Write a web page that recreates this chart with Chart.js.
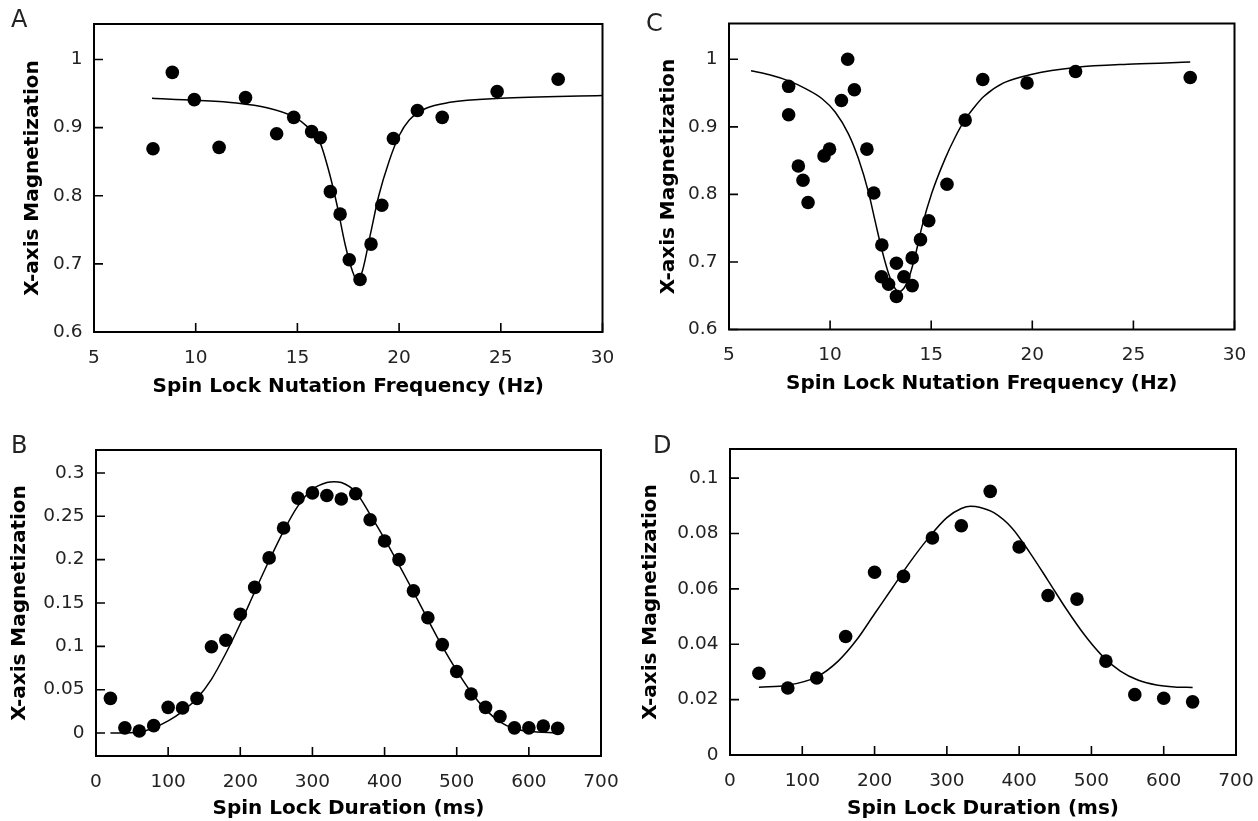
<!DOCTYPE html>
<html><head><meta charset="utf-8">
<script src="https://cdn.jsdelivr.net/npm/chart.js@4.4.0/dist/chart.umd.min.js"></script>
<style>
html,body{margin:0;padding:0;background:#fff;}
body{width:1258px;height:821px;position:relative;overflow:hidden;font-family:"DejaVu Sans";}
.panel{position:absolute;}
.letter{position:absolute;font-family:"DejaVu Sans";font-size:24px;color:#222;line-height:1;}
</style></head><body>
<div class="panel" style="left:0px;top:0px;width:629px;height:410px"><canvas id="cA" width="629" height="410"></canvas></div>
<div class="panel" style="left:629px;top:0px;width:629px;height:410px"><canvas id="cC" width="629" height="410"></canvas></div>
<div class="panel" style="left:0px;top:410px;width:629px;height:411px"><canvas id="cB" width="629" height="411"></canvas></div>
<div class="panel" style="left:629px;top:410px;width:629px;height:411px"><canvas id="cD" width="629" height="411"></canvas></div>
<div class="letter" style="left:11px;top:7px">A</div>
<div class="letter" style="left:646px;top:11px">C</div>
<div class="letter" style="left:11px;top:433px">B</div>
<div class="letter" style="left:653px;top:433px">D</div>
<script>
// ---------- Panel A ----------
const aFreq = [7.9, 8.85, 9.93, 11.15, 12.45, 13.98, 14.82, 15.7, 16.13, 16.62, 17.1, 17.55, 18.08, 18.62, 19.15, 19.72, 20.9, 22.12, 24.82, 27.82];
const aMag  = [0.869, 0.981, 0.941, 0.871, 0.944, 0.891, 0.915, 0.894, 0.885, 0.806, 0.773, 0.706, 0.677, 0.729, 0.786, 0.884, 0.925, 0.915, 0.953, 0.971];
const aFitFreq = [7.85, 10, 12, 13.5, 14.8, 15.5, 16.1, 16.6, 16.95, 17.35, 17.7, 17.95, 18.2, 18.6, 19.0, 19.5, 20.0, 20.5, 21.3, 22.5, 25, 30];
const aFitMag  = [0.943, 0.940, 0.936, 0.929, 0.916, 0.901, 0.879, 0.830, 0.786, 0.728, 0.690, 0.675, 0.690, 0.745, 0.800, 0.850, 0.888, 0.911, 0.928, 0.937, 0.943, 0.947];
// ---------- Panel C ----------
const cFreq = [7.95, 7.95, 8.43, 8.66, 8.91, 9.7, 9.97, 10.56, 10.87, 11.2, 11.82, 12.16, 12.56, 12.54, 12.89, 13.28, 13.28, 13.65, 14.06, 14.06, 14.47, 14.88, 15.78, 16.68, 17.55, 19.74, 22.14, 27.81];
const cMag  = [0.960, 0.918, 0.842, 0.821, 0.788, 0.857, 0.867, 0.939, 1.0, 0.955, 0.867, 0.802, 0.725, 0.678, 0.667, 0.649, 0.698, 0.678, 0.706, 0.665, 0.733, 0.761, 0.815, 0.910, 0.970, 0.965, 0.982, 0.973];
const cFitFreq = [6.09, 7.0, 7.95, 8.76, 9.59, 10.25, 10.9, 11.4, 11.9, 12.23, 12.56, 12.89, 13.15, 13.4, 13.65, 13.88, 14.2, 14.54, 15.03, 15.69, 16.19, 16.68, 17.18, 17.6, 18.58, 20, 22.14, 25, 27.81];
const cFitMag  = [0.983, 0.977, 0.968, 0.957, 0.942, 0.922, 0.890, 0.853, 0.803, 0.760, 0.718, 0.683, 0.664, 0.656, 0.661, 0.675, 0.708, 0.752, 0.802, 0.853, 0.885, 0.911, 0.931, 0.945, 0.965, 0.978, 0.988, 0.993, 0.996];
// ---------- Panel B ----------
const bDur = [20, 40, 60, 80, 100, 120, 140, 160, 180, 200, 220, 240, 260, 280, 300, 320, 340, 360, 380, 400, 420, 440, 460, 480, 500, 520, 540, 560, 580, 600, 620, 640];
const bMag = [0.040, 0.006, 0.0023, 0.0085, 0.0296, 0.029, 0.040, 0.0996, 0.107, 0.137, 0.168, 0.202, 0.2365, 0.271, 0.277, 0.274, 0.270, 0.276, 0.246, 0.2215, 0.200, 0.164, 0.133, 0.102, 0.071, 0.045, 0.0296, 0.019, 0.006, 0.006, 0.008, 0.0054];
const bFitDur = [20, 60, 80, 100, 120, 140, 160, 180, 200, 220, 240, 260, 280, 300, 320, 330, 340, 360, 380, 400, 420, 440, 460, 480, 500, 520, 540, 560, 580, 600, 640];
const bFitMag = [0.0, 0.001, 0.006, 0.014, 0.025, 0.040, 0.062, 0.092, 0.126, 0.163, 0.199, 0.233, 0.262, 0.281, 0.289, 0.290, 0.289, 0.278, 0.252, 0.224, 0.194, 0.163, 0.131, 0.100, 0.072, 0.047, 0.027, 0.013, 0.005, 0.002, 0.0];
// ---------- Panel D ----------
const dDur = [40, 80, 120, 160, 200, 240, 280, 320, 360, 400, 440, 480, 520, 560, 600, 640];
const dMag = [0.0295, 0.0242, 0.0278, 0.0428, 0.066, 0.0645, 0.0784, 0.0828, 0.0952, 0.0751, 0.0576, 0.0563, 0.0339, 0.0218, 0.0205, 0.0192];
const dFitDur = [40, 80, 120, 150, 175, 200, 225, 250, 275, 300, 320, 333, 345, 365, 390, 415, 440, 465, 490, 515, 540, 565, 590, 615, 640];
const dFitMag = [0.0245, 0.0252, 0.0282, 0.0340, 0.0415, 0.0510, 0.0605, 0.0700, 0.0785, 0.0857, 0.0890, 0.0898, 0.0895, 0.0875, 0.0820, 0.0730, 0.0630, 0.0528, 0.0435, 0.0358, 0.0303, 0.0270, 0.0253, 0.0246, 0.0244];
// ---------- Tick labels ----------
const freqTicks = [5, 10, 15, 20, 25, 30];
const freqMagTicks = [0.6, 0.7, 0.8, 0.9, 1];
const durTicks = [0, 100, 200, 300, 400, 500, 600, 700];
const bMagTicks = [0, 0.05, 0.1, 0.15, 0.2, 0.25, 0.3];
const dMagTicks = [0, 0.02, 0.04, 0.06, 0.08, 0.1];
const yTitle = 'X-axis Magnetization';
const freqTitle = 'Spin Lock Nutation Frequency (Hz)';
const durTitle = 'Spin Lock Duration (ms)';

const framePlugin = {
  id: 'frame',
  afterDraw(chart) {
    const {ctx, chartArea: a, scales: {x, y}} = chart;
    ctx.save();
    ctx.strokeStyle = '#000';
    ctx.lineWidth = 1.6;
    ctx.beginPath();
    x.ticks.forEach(t => { const p = x.getPixelForValue(t.value); ctx.moveTo(p, a.bottom); ctx.lineTo(p, a.bottom - 9); });
    y.ticks.forEach(t => { const p = y.getPixelForValue(t.value); ctx.moveTo(a.left, p); ctx.lineTo(a.left + 9, p); });
    ctx.stroke();
    ctx.lineWidth = 2;
    ctx.strokeRect(a.left, a.top, a.right - a.left, a.bottom - a.top);
    ctx.restore();
  }
};

function pairs(xs, ys) { return xs.map((v, i) => ({x: v, y: ys[i]})); }

function makeChart(id, o) {
  const tickFont = {family: 'DejaVu Sans', size: 18.5};
  const titleFont = {family: 'DejaVu Sans', size: 20, weight: 'bold'};
  new Chart(document.getElementById(id), {
    type: 'scatter',
    data: {
      datasets: [
        {data: pairs(o.px, o.py), pointRadius: 6.8, pointBackgroundColor: '#000', pointBorderWidth: 0, showLine: false},
        {data: pairs(o.fx, o.fy), showLine: true, pointRadius: 0, borderColor: '#000', borderWidth: 1.5, cubicInterpolationMode: 'monotone', fill: false}
      ]
    },
    options: {
      responsive: false, animation: false, events: [],
      layout: {padding: {left: 0, top: o.padTop, right: o.padRight, bottom: 0}},
      plugins: {legend: {display: false}, tooltip: {enabled: false}},
      scales: {
        x: {
          type: 'linear', min: o.xMin, max: o.xMax,
          grid: {display: false, drawTicks: false},
          border: {display: false},
          afterBuildTicks: s => { s.ticks = o.xTicks.map(v => ({value: v})); },
          afterFit: s => { s.height = o.xAxisH; s.paddingLeft = 0; s.paddingRight = 0; },
          ticks: {font: tickFont, color: '#222', padding: 15, maxRotation: 0, callback: v => String(v)},
          title: {display: true, text: o.xTitle, font: titleFont, color: '#000', padding: {top: 0, bottom: o.xTitlePad}}
        },
        y: {
          type: 'linear', min: o.yMin, max: o.yMax,
          grid: {display: false, drawTicks: false},
          border: {display: false},
          afterBuildTicks: s => { s.ticks = o.yTicks.map(v => ({value: v})); },
          afterFit: s => { s.width = o.yAxisW; s.paddingTop = 0; s.paddingBottom = 0; },
          ticks: {font: tickFont, color: '#222', padding: 11.5, callback: v => String(v)},
          title: {display: true, text: yTitle, font: titleFont, color: '#000', padding: {top: o.yTitlePad, bottom: 0}}
        }
      }
    },
    plugins: [framePlugin]
  });
}

makeChart('cA', {px: aFreq, py: aMag, fx: aFitFreq, fy: aFitMag, xMin: 5, xMax: 30, yMin: 0.6, yMax: 1.052,
  xTicks: freqTicks, yTicks: freqMagTicks, xTitle: freqTitle,
  padTop: 24, padRight: 26.5, yAxisW: 94, xAxisH: 78, yTitlePad: 21, xTitlePad: 11});
makeChart('cC', {px: cFreq, py: cMag, fx: cFitFreq, fy: cFitMag, xMin: 5, xMax: 30, yMin: 0.6, yMax: 1.053,
  xTicks: freqTicks, yTicks: freqMagTicks, xTitle: freqTitle,
  padTop: 23.5, padRight: 23.5, yAxisW: 100, xAxisH: 80.5, yTitlePad: 28, xTitlePad: 14});
makeChart('cB', {px: bDur, py: bMag, fx: bFitDur, fy: bFitMag, xMin: 0, xMax: 700, yMin: -0.0265, yMax: 0.3265,
  xTicks: durTicks, yTicks: bMagTicks, xTitle: durTitle,
  padTop: 40, padRight: 28, yAxisW: 96, xAxisH: 65, yTitlePad: 8, xTitlePad: 0});
makeChart('cD', {px: dDur, py: dMag, fx: dFitDur, fy: dFitMag, xMin: 0, xMax: 700, yMin: 0, yMax: 0.1105,
  xTicks: durTicks, yTicks: dMagTicks, xTitle: durTitle,
  padTop: 39, padRight: 22, yAxisW: 101, xAxisH: 66, yTitlePad: 10, xTitlePad: 0});
</script>
</body></html>
